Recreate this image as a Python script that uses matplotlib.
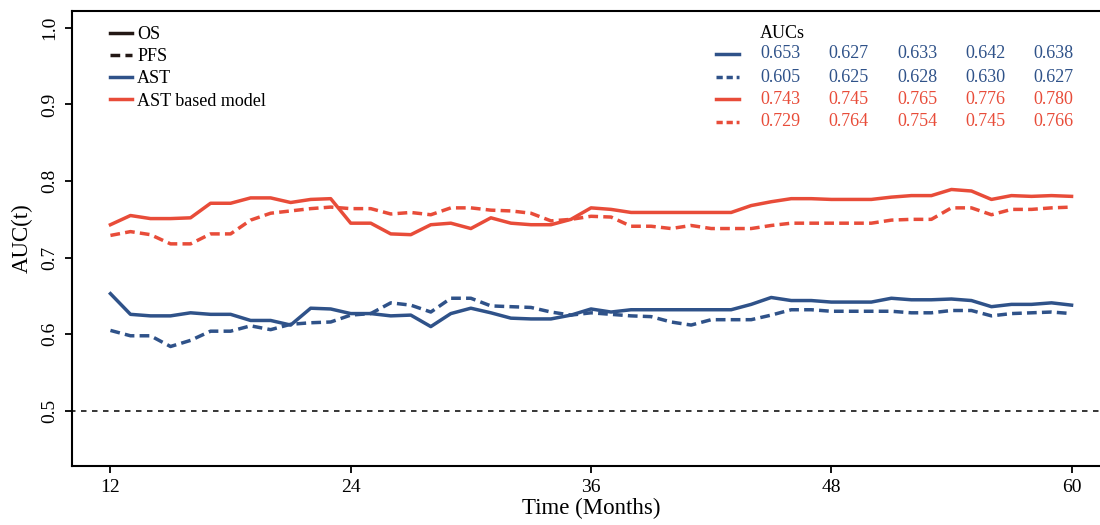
import numpy as np
import matplotlib.pyplot as plt
from matplotlib.lines import Line2D

plt.rcParams['font.family'] = ['Liberation Serif', 'DejaVu Serif']

# time points (months)
months = np.arange(12, 61)

# AUC(t) values
ast_os = [0.653, 0.626, 0.624, 0.624, 0.628, 0.626, 0.626, 0.618, 0.618, 0.612,
          0.634, 0.633, 0.627, 0.627, 0.624, 0.625, 0.610, 0.627, 0.634, 0.628,
          0.621, 0.620, 0.620, 0.625, 0.633, 0.629, 0.632, 0.632, 0.632, 0.632,
          0.632, 0.632, 0.639, 0.648, 0.644, 0.644, 0.642, 0.642, 0.642, 0.647,
          0.645, 0.645, 0.646, 0.644, 0.636, 0.639, 0.639, 0.641, 0.638]
ast_pfs = [0.605, 0.598, 0.598, 0.584, 0.592, 0.604, 0.604, 0.611, 0.606, 0.613,
           0.615, 0.616, 0.625, 0.627, 0.641, 0.638, 0.629, 0.647, 0.647, 0.637,
           0.636, 0.635, 0.629, 0.625, 0.628, 0.626, 0.624, 0.623, 0.616, 0.612,
           0.619, 0.619, 0.619, 0.625, 0.632, 0.632, 0.630, 0.630, 0.630, 0.630,
           0.628, 0.628, 0.631, 0.631, 0.624, 0.627, 0.628, 0.629, 0.627]
model_os = [0.743, 0.755, 0.751, 0.751, 0.752, 0.771, 0.771, 0.778, 0.778, 0.772,
            0.776, 0.777, 0.745, 0.745, 0.731, 0.730, 0.743, 0.745, 0.738, 0.752,
            0.745, 0.743, 0.743, 0.750, 0.765, 0.763, 0.759, 0.759, 0.759, 0.759,
            0.759, 0.759, 0.768, 0.773, 0.777, 0.777, 0.776, 0.776, 0.776, 0.779,
            0.781, 0.781, 0.789, 0.787, 0.776, 0.781, 0.780, 0.781, 0.780]
model_pfs = [0.729, 0.734, 0.730, 0.718, 0.718, 0.731, 0.731, 0.749, 0.758, 0.761,
             0.764, 0.766, 0.764, 0.764, 0.757, 0.759, 0.756, 0.765, 0.765, 0.762,
             0.761, 0.758, 0.748, 0.750, 0.754, 0.753, 0.741, 0.741, 0.738, 0.742,
             0.738, 0.738, 0.738, 0.742, 0.745, 0.745, 0.745, 0.745, 0.745, 0.749,
             0.750, 0.750, 0.765, 0.765, 0.756, 0.763, 0.763, 0.765, 0.766]

# AUCs at 12/24/36/48/60 months (table in the top right)
auc_table = [
    ["0.653", "0.627", "0.633", "0.642", "0.638"],
    ["0.605", "0.625", "0.628", "0.630", "0.627"],
    ["0.743", "0.745", "0.765", "0.776", "0.780"],
    ["0.729", "0.764", "0.754", "0.745", "0.766"],
]
xticks = [12, 24, 36, 48, 60]
yticks = [0.5, 0.6, 0.7, 0.8, 0.9, 1.0]

blue = '#2f5289'
red = '#e84c39'
dash = (2.8, 1.5)
lw = 2.5

fig = plt.figure(figsize=(11, 5.25), dpi=100)
# axes runs past the right edge of the picture (cropped like the original)
ax = fig.add_axes([72 / 1100, 59 / 525, 1038 / 1100, 455 / 525])

series = [(ast_os, blue, '-'), (ast_pfs, blue, '--'),
          (model_os, red, '-'), (model_pfs, red, '--')]
for vals, col, ls in series:
    line, = ax.plot(months, vals, color=col, lw=lw, ls=ls)
    if ls == '--':
        line.set_dashes(dash)

ref, = ax.plot([10, 62], [0.5, 0.5], color='black', lw=1.1, ls='--')
ref.set_dashes((3.6, 3.6))

ax.set_xlim(10.08, 61.92)
ax.set_ylim(0.428, 1.022)
ax.set_xticks(xticks)
ax.set_yticks(yticks)
ax.set_yticklabels([f"{v:.1f}" for v in yticks], rotation=90, va='center')
ax.tick_params(axis='both', labelsize=14, length=5, width=1.3, direction='out')
ax.tick_params(axis='y', pad=5)
ax.tick_params(axis='x', pad=4)
for sp in ax.spines.values():
    sp.set_linewidth(1.5)

ax.set_xlabel("Time (Months)", fontsize=16.5, labelpad=2)
ax.set_ylabel("AUC(t)", fontsize=16.5, labelpad=6)

# legend (line type = endpoint, colour = model)
handles = [Line2D([], [], color='#231815', lw=lw, ls='-'),
           Line2D([], [], color='#231815', lw=lw, ls='--', dashes=dash),
           Line2D([], [], color=blue, lw=lw),
           Line2D([], [], color=red, lw=lw)]
ax.legend(handles, ["OS", "PFS", "AST", "AST based model"], loc='upper left',
          bbox_to_anchor=(0.0367, 0.967), frameon=False, fontsize=13,
          handlelength=1.2, handletextpad=0.3, labelspacing=0.29,
          borderaxespad=0, borderpad=0)

# AUC table
def ax_x(px):
    return (px - 72) / 1038

def ax_y(py):
    return (466 - py) / 455

ax.text(ax_x(760), ax_y(33), "AUCs", transform=ax.transAxes, fontsize=13,
        va='center', ha='left')
row_y = [54, 77, 99, 122]
row_col = [blue, blue, red, red]
row_ls = ['-', '--', '-', '--']
col_x = [760, 828, 897, 965, 1033]
for vals, py, col, ls in zip(auc_table, row_y, row_col, row_ls):
    sample = Line2D([ax_x(716), ax_x(739)], [ax_y(py), ax_y(py)],
                    transform=ax.transAxes, color=col, lw=lw, ls=ls)
    if ls == '--':
        sample.set_dashes((1.8, 1.1))
    ax.add_line(sample)
    for s, px in zip(vals, col_x):
        ax.text(ax_x(px), ax_y(py), s, transform=ax.transAxes, fontsize=13,
                color=col, va='center', ha='left')

fig.savefig("out.png", dpi=100)
